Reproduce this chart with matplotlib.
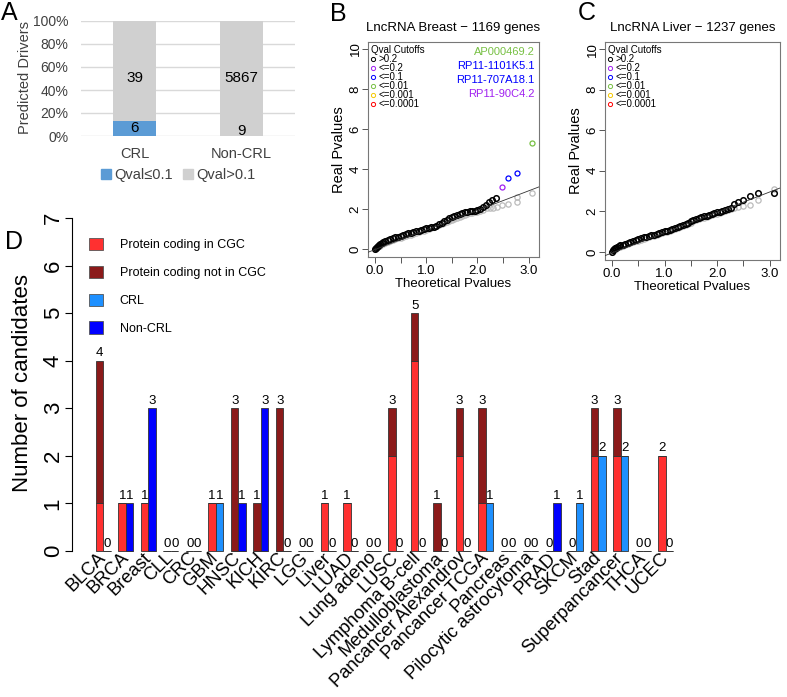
import numpy as np
import matplotlib
matplotlib.use("Agg")
import matplotlib.pyplot as plt
from matplotlib.patches import Patch
from matplotlib.lines import Line2D

plt.rcParams['font.family'] = ['Liberation Sans', 'DejaVu Sans']

# ---- panel A data
a_groups = ['CRL', 'Non-CRL']
a_sig = [6, 9]            # Qval <= 0.1
a_nonsig = [39, 5867]     # Qval > 0.1

# ---- panel B data (QQ plot, -log10 p)
b_black_x = [0.00, 0.02, 0.04, 0.06, 0.08, 0.10, 0.13, 0.16, 0.20, 0.25, 0.30, 0.35, 0.40, 0.45,
             0.50, 0.55, 0.60, 0.65, 0.70, 0.75, 0.80, 0.85, 0.90, 0.95, 1.00, 1.05, 1.10, 1.15,
             1.20, 1.25, 1.30, 1.35, 1.40, 1.45, 1.50, 1.55, 1.60, 1.65, 1.70, 1.75, 1.80, 1.85,
             1.90, 1.95, 2.00, 2.05, 2.11, 2.17, 2.22, 2.29, 2.37]
b_black_y = [0.00, 0.06, 0.12, 0.17, 0.21, 0.25, 0.30, 0.34, 0.39, 0.44, 0.49, 0.53, 0.58, 0.62,
             0.67, 0.71, 0.75, 0.78, 0.82, 0.85, 0.88, 0.92, 0.95, 0.99, 1.03, 1.06, 1.09, 1.12,
             1.16, 1.24, 1.32, 1.40, 1.47, 1.53, 1.58, 1.63, 1.70, 1.76, 1.80, 1.83, 1.86, 1.88,
             1.90, 1.92, 1.96, 2.02, 2.12, 2.22, 2.33, 2.45, 2.55]
b_gray_x = [0.00, 0.05, 0.10, 0.15, 0.20, 0.25, 0.30, 0.35, 0.40, 0.45, 0.50, 0.55, 0.60, 0.65,
            0.70, 0.75, 0.80, 0.85, 0.90, 0.95, 1.00, 1.05, 1.10, 1.15, 1.20, 1.25, 1.30, 1.35,
            1.40, 1.45, 1.50, 1.55, 1.60, 1.65, 1.70, 1.75, 1.80, 1.85, 1.90, 1.95, 2.00, 2.05,
            2.11, 2.18, 2.24, 2.31, 2.39, 2.47, 2.60, 2.77, 2.77, 3.07]
b_gray_y = [0.00, 0.09, 0.17, 0.24, 0.30, 0.35, 0.40, 0.44, 0.49, 0.53, 0.57, 0.61, 0.65, 0.69,
            0.72, 0.76, 0.80, 0.84, 0.88, 0.92, 0.96, 1.00, 1.04, 1.08, 1.13, 1.18, 1.24, 1.30,
            1.36, 1.41, 1.46, 1.51, 1.56, 1.61, 1.66, 1.71, 1.75, 1.78, 1.81, 1.84, 1.87, 1.89,
            1.97, 2.03, 2.05, 2.07, 2.08, 2.18, 2.27, 2.35, 2.62, 2.80]
b_hit_x = [2.47, 2.60, 2.77, 3.07]
b_hit_y = [3.12, 3.55, 3.80, 5.30]
b_hit_col = ['#A020F0', '#0000FF', '#0000FF', '#77C043']
b_genes = ['AP000469.2', 'RP11-1101K5.1', 'RP11-707A18.1', 'RP11-90C4.2']
b_gene_col = ['#77C043', '#0000FF', '#0000FF', '#A020F0']
b_fit = (-0.03, 0.98)

# ---- panel C data
c_black_x = [0.00, 0.02, 0.04, 0.06, 0.08, 0.10, 0.13, 0.16, 0.20, 0.25, 0.30, 0.35, 0.40, 0.45,
             0.50, 0.55, 0.60, 0.65, 0.70, 0.75, 0.80, 0.85, 0.90, 0.95, 1.00, 1.05, 1.10, 1.15,
             1.20, 1.25, 1.30, 1.35, 1.40, 1.45, 1.50, 1.55, 1.60, 1.65, 1.70, 1.75, 1.80, 1.85,
             1.90, 1.95, 2.00, 2.05, 2.10, 2.15, 2.20, 2.26, 2.33, 2.40, 2.49, 2.62, 2.79, 3.09]
c_black_y = [0.00, 0.07, 0.13, 0.17, 0.21, 0.24, 0.28, 0.32, 0.36, 0.41, 0.46, 0.50, 0.55, 0.59,
             0.63, 0.67, 0.71, 0.74, 0.78, 0.81, 0.85, 0.89, 0.93, 0.97, 1.01, 1.05, 1.09, 1.13,
             1.17, 1.22, 1.27, 1.32, 1.38, 1.44, 1.50, 1.56, 1.62, 1.67, 1.71, 1.75, 1.79, 1.83,
             1.87, 1.91, 1.95, 1.99, 2.03, 2.06, 2.10, 2.18, 2.37, 2.45, 2.58, 2.78, 2.88, 2.90]
c_gray_x = [0.00, 0.05, 0.10, 0.15, 0.20, 0.25, 0.30, 0.35, 0.40, 0.45, 0.50, 0.55, 0.60, 0.65,
            0.70, 0.75, 0.80, 0.85, 0.90, 0.95, 1.00, 1.05, 1.10, 1.15, 1.20, 1.25, 1.30, 1.35,
            1.40, 1.45, 1.50, 1.55, 1.60, 1.65, 1.70, 1.75, 1.80, 1.85, 1.90, 1.95, 2.00, 2.05,
            2.10, 2.15, 2.20, 2.26, 2.33, 2.40, 2.49, 2.62, 2.79, 3.09]
c_gray_y = [0.00, 0.09, 0.17, 0.24, 0.29, 0.34, 0.39, 0.43, 0.48, 0.52, 0.56, 0.60, 0.64, 0.68,
            0.72, 0.76, 0.80, 0.84, 0.88, 0.92, 0.96, 1.00, 1.04, 1.08, 1.12, 1.17, 1.22, 1.27,
            1.32, 1.38, 1.44, 1.50, 1.56, 1.61, 1.65, 1.69, 1.73, 1.77, 1.81, 1.85, 1.89, 1.93,
            1.97, 2.01, 2.05, 2.10, 2.17, 2.21, 2.25, 2.30, 2.58, 3.10]
c_fit = (-0.05, 1.00)

q_labels = ['>0.2', '<=0.2', '<=0.1', '<=0.01', '<=0.001', '<=0.0001']
q_colors = ['black', '#A020F0', '#0000FF', '#77C043', '#F5C800', '#FF0000']

# ---- panel D data
d_types = ['BLCA', 'BRCA', 'Breast', 'CLL', 'CRC', 'GBM', 'HNSC', 'KICH', 'KIRC', 'LGG',
           'Liver', 'LUAD', 'Lung adeno', 'LUSC', 'Lymphoma B-cell', 'Medulloblastoma',
           'Pancancer Alexandrov', 'Pancancer TCGA', 'Pancreas', 'Pilocytic astrocytoma',
           'PRAD', 'SKCM', 'Stad', 'Superpancancer', 'THCA', 'UCEC']
d_cgc    = [1, 1, 1, 0, 0, 1, 0, 0, 0, 0, 1, 1, 0, 2, 4, 0, 2, 1, 0, 0, 0, 0, 2, 2, 0, 2]
d_notcgc = [3, 0, 0, 0, 0, 0, 3, 1, 3, 0, 0, 0, 0, 1, 1, 1, 1, 2, 0, 0, 0, 0, 1, 1, 0, 0]
d_crl    = [0, 0, 0, 0, 0, 1, 0, 0, 0, 0, 0, 0, 0, 0, 0, 0, 0, 1, 0, 0, 0, 1, 2, 2, 0, 0]
d_noncrl = [0, 1, 3, 0, 0, 0, 1, 3, 0, 0, 0, 0, 0, 0, 0, 0, 0, 0, 0, 0, 1, 0, 0, 0, 0, 0]
d_leg = ['Protein coding in CGC', 'Protein coding not in CGC', 'CRL', 'Non-CRL']
d_cols = ['#FF3030', '#8B1A1A', '#1E90FF', '#0000FF']

W, H = 787, 697
fig = plt.figure(figsize=(W / 100, H / 100), dpi=100)


def rect(l, t, r, b):
    return [l / W, 1 - b / H, (r - l) / W, (b - t) / H]


# ================= A
txt = '#404040'
axA = fig.add_axes(rect(81, 21, 295, 136))
tot = np.array(a_sig) + np.array(a_nonsig)
fs = np.array(a_sig) / tot
xa = np.arange(len(a_groups))
axA.bar(xa, fs, width=0.41, color='#5B9BD5', zorder=3)
axA.bar(xa, 1 - fs, bottom=fs, width=0.41, color='#D0D0D0', zorder=3)
for i in range(len(a_groups)):
    axA.text(xa[i], max(fs[i] / 2, 0.045), str(a_sig[i]), ha='center', va='center', fontsize=11, zorder=4)
    axA.text(xa[i], 0.5, str(a_nonsig[i]), ha='center', va='center', fontsize=11, zorder=4)
axA.set_xlim(-0.5, 1.5)
axA.set_ylim(0, 1)
axA.set_yticks(np.arange(0, 1.01, 0.2))
axA.set_yticklabels(['%d%%' % v for v in range(0, 101, 20)])
axA.set_xticks(xa)
axA.set_xticklabels(a_groups)
axA.grid(axis='y', color='#D9D9D9', lw=1, zorder=0)
for s in axA.spines.values():
    s.set_visible(False)
axA.tick_params(length=0, labelsize=10, labelcolor=txt, pad=9)
axA.tick_params(axis='x', labelsize=10.5, pad=8)
fig.text(25 / W, 1 - 78 / H, 'Predicted Drivers', rotation=90, ha='center', va='center',
         fontsize=10.5, color=txt)
fig.legend([Patch(color='#5B9BD5'), Patch(color='#D0D0D0')], ['Qval≤0.1', 'Qval>0.1'],
           ncol=2, loc='center', bbox_to_anchor=(178 / W, 1 - 175 / H), frameon=False,
           handlelength=0.7, handleheight=0.7, handletextpad=0.2, columnspacing=0.7,
           fontsize=10.5, labelcolor=txt, borderpad=0)


# ================= B & C
def qq(ax, bx, by, gx, gy, fit, title):
    ax.plot(gx, gy, 'o', mfc='none', mec='#BBBBBB', ms=3.8, mew=0.9, zorder=2)
    ax.plot(bx, by, 'o', mfc='none', mec='black', ms=4.0, mew=1.1, zorder=3)
    ax.set_xlim(-0.135, 3.2)
    ax.set_ylim(-0.4, 10.35)
    xs = np.array(ax.get_xlim())
    ax.plot(xs, fit[0] + fit[1] * xs, color='#333333', lw=0.6, zorder=4)
    ax.set_xticks(np.arange(0, 3.01, 0.5))
    ax.set_xticklabels(['0.0', '', '1.0', '', '2.0', '', '3.0'])
    ax.set_yticks(np.arange(0, 11, 2))
    ax.set_yticklabels([str(v) for v in range(0, 11, 2)], rotation=90, va='center')
    ax.tick_params(length=4, width=0.7, color='#555555', labelsize=9.5, pad=1.5)
    ax.tick_params(axis='y', pad=0.5)
    for s in ax.spines.values():
        s.set_color('#777777')
        s.set_linewidth(0.8)
    ax.set_xlabel('Theoretical Pvalues', fontsize=9.5, labelpad=1)
    ax.set_ylabel('Real Pvalues', fontsize=10.5, labelpad=3)
    ax.set_title(title, fontsize=9.5, pad=8)
    hs = [Line2D([], [], ls='none', marker='o', mfc='none', mec=c, ms=3, mew=0.7) for c in q_colors]
    ax.legend(hs, q_labels, title='Qval Cutoffs', loc='upper left', bbox_to_anchor=(0, 1),
              frameon=False, fontsize=7, title_fontsize=7,
              handlelength=0.5, handleheight=0.5, handletextpad=0.3, labelspacing=-0.1,
              borderpad=0.2, borderaxespad=0.1, alignment='left')


axB = fig.add_axes(rect(368, 42, 539, 257))
qq(axB, b_black_x, b_black_y, b_gray_x, b_gray_y, b_fit, 'LncRNA Breast \u2212 1169 genes')
for x, y, c in zip(b_hit_x, b_hit_y, b_hit_col):
    axB.plot(x, y, 'o', mfc='none', mec=c, ms=3.6, mew=0.9, zorder=5)
for k, (g, c) in enumerate(zip(b_genes, b_gene_col)):
    axB.text(0.975, 0.952 - k * 0.064, g, transform=axB.transAxes, ha='right', va='center',
             color=c, fontsize=8)

axC = fig.add_axes(rect(605, 42, 780, 260))
qq(axC, c_black_x, c_black_y, c_gray_x, c_gray_y, c_fit, 'LncRNA Liver \u2212 1237 genes')

# ================= D
axD = fig.add_axes(rect(72, 218, 680, 551))
axD.set_facecolor('none')
n = len(d_types)
xp = 1 + 3 * np.arange(n)
xl = xp + 1
ek = dict(edgecolor='#333333', linewidth=0.6, align='edge', width=1, clip_on=False)
axD.bar(xp, d_cgc, color=d_cols[0], **ek)
axD.bar(xp, d_notcgc, bottom=d_cgc, color=d_cols[1], **ek)
axD.bar(xl, d_crl, color=d_cols[2], **ek)
axD.bar(xl, d_noncrl, bottom=d_crl, color=d_cols[3], **ek)
ptot = np.array(d_cgc) + np.array(d_notcgc)
ltot = np.array(d_crl) + np.array(d_noncrl)
for i in range(n):
    axD.annotate(str(ptot[i]), (xp[i] + 0.5, ptot[i]), xytext=(0, 1), textcoords='offset points',
                 ha='center', va='bottom', fontsize=9.5)
    axD.annotate(str(ltot[i]), (xl[i] + 0.5, ltot[i]), xytext=(0, 1), textcoords='offset points',
                 ha='center', va='bottom', fontsize=9.5)
    axD.text(xp[i] + 1, -0.09, d_types[i], rotation=45, ha='right', va='center',
             rotation_mode='anchor', fontsize=13.2)
axD.set_xlim(-2.2, 78.9)
axD.set_ylim(0, 7)
axD.set_yticks(range(8))
axD.set_yticklabels([str(v) for v in range(8)], rotation=90, va='center')
axD.tick_params(axis='y', length=5, width=0.8, labelsize=16, pad=1)
axD.tick_params(axis='x', bottom=False, labelbottom=False)
for s in ['top', 'right', 'bottom']:
    axD.spines[s].set_visible(False)
axD.spines['left'].set_bounds(0, 7)
axD.spines['left'].set_linewidth(0.8)
fig.text(23 / W, 1 - 383 / H, 'Number of candidates', rotation=90, ha='center', va='center',
         fontsize=16)
axD.legend([Patch(facecolor=c, edgecolor='#555555', lw=0.6) for c in d_cols], d_leg,
           loc='upper left', bbox_to_anchor=(89 / W, 1 - 238 / H), bbox_transform=fig.transFigure,
           frameon=False, fontsize=9, handlelength=1.12, handleheight=1.12, handletextpad=1.35,
           labelspacing=1.16, borderpad=0, borderaxespad=0)

# panel letters
for lab, x, y in [('A', 1, 1), ('B', 330, 2), ('C', 578, 1), ('D', 5, 230)]:
    fig.text(x / W, 1 - y / H, lab, fontsize=18, ha='left', va='top')

fig.savefig('out.png', dpi=100)
